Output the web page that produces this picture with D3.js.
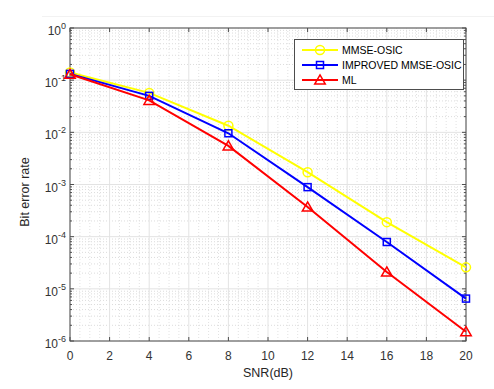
<!DOCTYPE html>
<html>
<head>
<meta charset="utf-8">
<script src="https://cdn.jsdelivr.net/npm/d3@7"></script>
<style>
  body { margin: 0; background: #fff; }
  svg { font-family: "Liberation Sans", Arial, sans-serif; }
</style>
</head>
<body>
<div id="chart"></div>
<script>
// Chart data.
const snr = [0, 4, 8, 12, 16, 20];
const seriesNames = ["MMSE-OSIC", "IMPROVED MMSE-OSIC", "ML"];
const mmseOsic = [0.14, 0.057, 0.0134, 0.00172, 0.00019, 0.0000258];
const improved = [0.132, 0.050, 0.0096, 0.00089, 0.000079, 0.0000065];
const ml = [0.13, 0.041, 0.0055, 0.00037, 0.000021, 0.0000015];
const xTicks = [0, 2, 4, 6, 8, 10, 12, 14, 16, 18, 20];
const yExponents = [0, -1, -2, -3, -4, -5, -6];

const width = 494;
const height = 389;
const margin = { top: 28, right: 28, bottom: 48, left: 70 };

const svg = d3.select("#chart")
    .append("svg")
    .attr("width", width)
    .attr("height", height);

const xScale = d3.scaleLinear()
    .domain([0, 20])
    .range([margin.left, width - margin.right]);

const yScale = d3.scaleLog()
    .domain([1e-6, 1])
    .range([height - margin.bottom, margin.top]);

const x0 = margin.left, x1 = width - margin.right;
const y0 = height - margin.bottom, y1 = margin.top;

// faint figure edge line near the top
svg.append("line")
    .attr("x1", 42).attr("x2", width)
    .attr("y1", 16.5).attr("y2", 16.5)
    .attr("stroke", "#f2f2f2");

// minor grid
const minorX = d3.range(0, 20.01, 0.5).filter(v => v % 2 !== 0);
svg.append("g")
    .selectAll("line")
    .data(minorX)
    .join("line")
    .attr("x1", d => xScale(d)).attr("x2", d => xScale(d))
    .attr("y1", y0).attr("y2", y1)
    .attr("stroke", "#e2e2e2")
    .attr("stroke-dasharray", "1,2");

const minorY = [];
for (let e = -6; e < 0; e++) {
    for (let m = 2; m <= 9; m++) minorY.push(m * Math.pow(10, e));
}
svg.append("g")
    .selectAll("line")
    .data(minorY)
    .join("line")
    .attr("x1", x0).attr("x2", x1)
    .attr("y1", d => yScale(d)).attr("y2", d => yScale(d))
    .attr("stroke", "#dcdcdc")
    .attr("stroke-dasharray", "1,2");

// major grid
svg.append("g")
    .selectAll("line")
    .data(xTicks)
    .join("line")
    .attr("x1", d => xScale(d)).attr("x2", d => xScale(d))
    .attr("y1", y0).attr("y2", y1)
    .attr("stroke", "#e3e3e3");

svg.append("g")
    .selectAll("line")
    .data(yExponents)
    .join("line")
    .attr("x1", x0).attr("x2", x1)
    .attr("y1", d => yScale(Math.pow(10, d))).attr("y2", d => yScale(Math.pow(10, d)))
    .attr("stroke", "#e3e3e3");

// axes box
svg.append("rect")
    .attr("x", x0).attr("y", y1)
    .attr("width", x1 - x0).attr("height", y0 - y1)
    .attr("fill", "none")
    .attr("stroke", "#4d4d4d")
    .attr("stroke-width", 1);

// tick marks on all four sides
const tickColor = "#4d4d4d";
const tg = svg.append("g").attr("stroke", tickColor);
xTicks.forEach(function(d) {
    tg.append("line").attr("x1", xScale(d)).attr("x2", xScale(d)).attr("y1", y0).attr("y2", y0 - 4);
    tg.append("line").attr("x1", xScale(d)).attr("x2", xScale(d)).attr("y1", y1).attr("y2", y1 + 4);
});
yExponents.forEach(function(d) {
    const y = yScale(Math.pow(10, d));
    tg.append("line").attr("x1", x0).attr("x2", x0 + 4).attr("y1", y).attr("y2", y);
    tg.append("line").attr("x1", x1).attr("x2", x1 - 4).attr("y1", y).attr("y2", y);
});
minorY.forEach(function(d) {
    const y = yScale(d);
    tg.append("line").attr("x1", x0).attr("x2", x0 + 2).attr("y1", y).attr("y2", y);
    tg.append("line").attr("x1", x1).attr("x2", x1 - 2).attr("y1", y).attr("y2", y);
});

// x tick labels
svg.append("g")
    .selectAll("text")
    .data(xTicks)
    .join("text")
    .attr("x", d => xScale(d))
    .attr("y", y0 + 19)
    .attr("text-anchor", "middle")
    .attr("font-size", 12)
    .attr("fill", "#333")
    .text(d => d);

// y tick labels with superscript exponents
const yl = svg.append("g");
yExponents.forEach(function(d) {
    const y = yScale(Math.pow(10, d));
    const t = yl.append("text")
        .attr("x", x0 - 4)
        .attr("y", y + 7)
        .attr("text-anchor", "end")
        .attr("font-size", 12)
        .attr("fill", "#333");
    t.append("tspan").text("10");
    t.append("tspan").attr("dy", -6).attr("font-size", 9).text(d);
});

// axis titles
svg.append("text")
    .attr("x", (x0 + x1) / 2)
    .attr("y", height - 12)
    .attr("text-anchor", "middle")
    .attr("font-size", 12.5)
    .attr("fill", "#262626")
    .text("SNR(dB)");

svg.append("text")
    .attr("transform", `translate(29, 192) rotate(-90)`)
    .attr("text-anchor", "middle")
    .attr("font-size", 12.5)
    .attr("fill", "#262626")
    .text("Bit error rate");

// series
const series = [
    { name: seriesNames[0], values: mmseOsic, color: "#ffff00", marker: "circle" },
    { name: seriesNames[1], values: improved, color: "#0000ff", marker: "square" },
    { name: seriesNames[2], values: ml, color: "#ff0000", marker: "triangle" }
];

const line = d3.line()
    .x(d => xScale(d[0]))
    .y(d => yScale(d[1]));

function drawMarker(g, type, x, y, color) {
    if (type === "circle") {
        g.append("circle").attr("cx", x).attr("cy", y).attr("r", 4.5)
            .attr("fill", "none").attr("stroke", color).attr("stroke-width", 1.5);
    } else if (type === "square") {
        g.append("rect").attr("x", x - 3.5).attr("y", y - 3.5).attr("width", 7).attr("height", 7)
            .attr("fill", "none").attr("stroke", color).attr("stroke-width", 1.5);
    } else {
        const s = d3.symbol().type(d3.symbolTriangle).size(48);
        g.append("path").attr("d", s()).attr("transform", `translate(${x},${y + 1})`)
            .attr("fill", "none").attr("stroke", color).attr("stroke-width", 1.5);
    }
}

series.forEach(function(s) {
    const pts = snr.map((v, i) => [v, s.values[i]]);
    svg.append("path")
        .datum(pts)
        .attr("d", line)
        .attr("fill", "none")
        .attr("stroke", s.color)
        .attr("stroke-width", 2);
    const g = svg.append("g");
    pts.forEach(p => drawMarker(g, s.marker, xScale(p[0]), yScale(p[1]), s.color));
});

// legend
const legend = svg.append("g");
legend.append("rect")
    .attr("x", 294.5).attr("y", 39.5)
    .attr("width", 169).attr("height", 50)
    .attr("fill", "#fff")
    .attr("stroke", "#4d4d4d");

series.forEach(function(s, i) {
    const y = 50 + i * 15;
    legend.append("line")
        .attr("x1", 302).attr("x2", 338)
        .attr("y1", y).attr("y2", y)
        .attr("stroke", s.color)
        .attr("stroke-width", 2);
    drawMarker(legend, s.marker, 320, y, s.color);
    legend.append("text")
        .attr("x", 342)
        .attr("y", y + 4)
        .attr("font-size", 10.5)
        .attr("fill", "#000")
        .text(s.name);
});
</script>
</body>
</html>
